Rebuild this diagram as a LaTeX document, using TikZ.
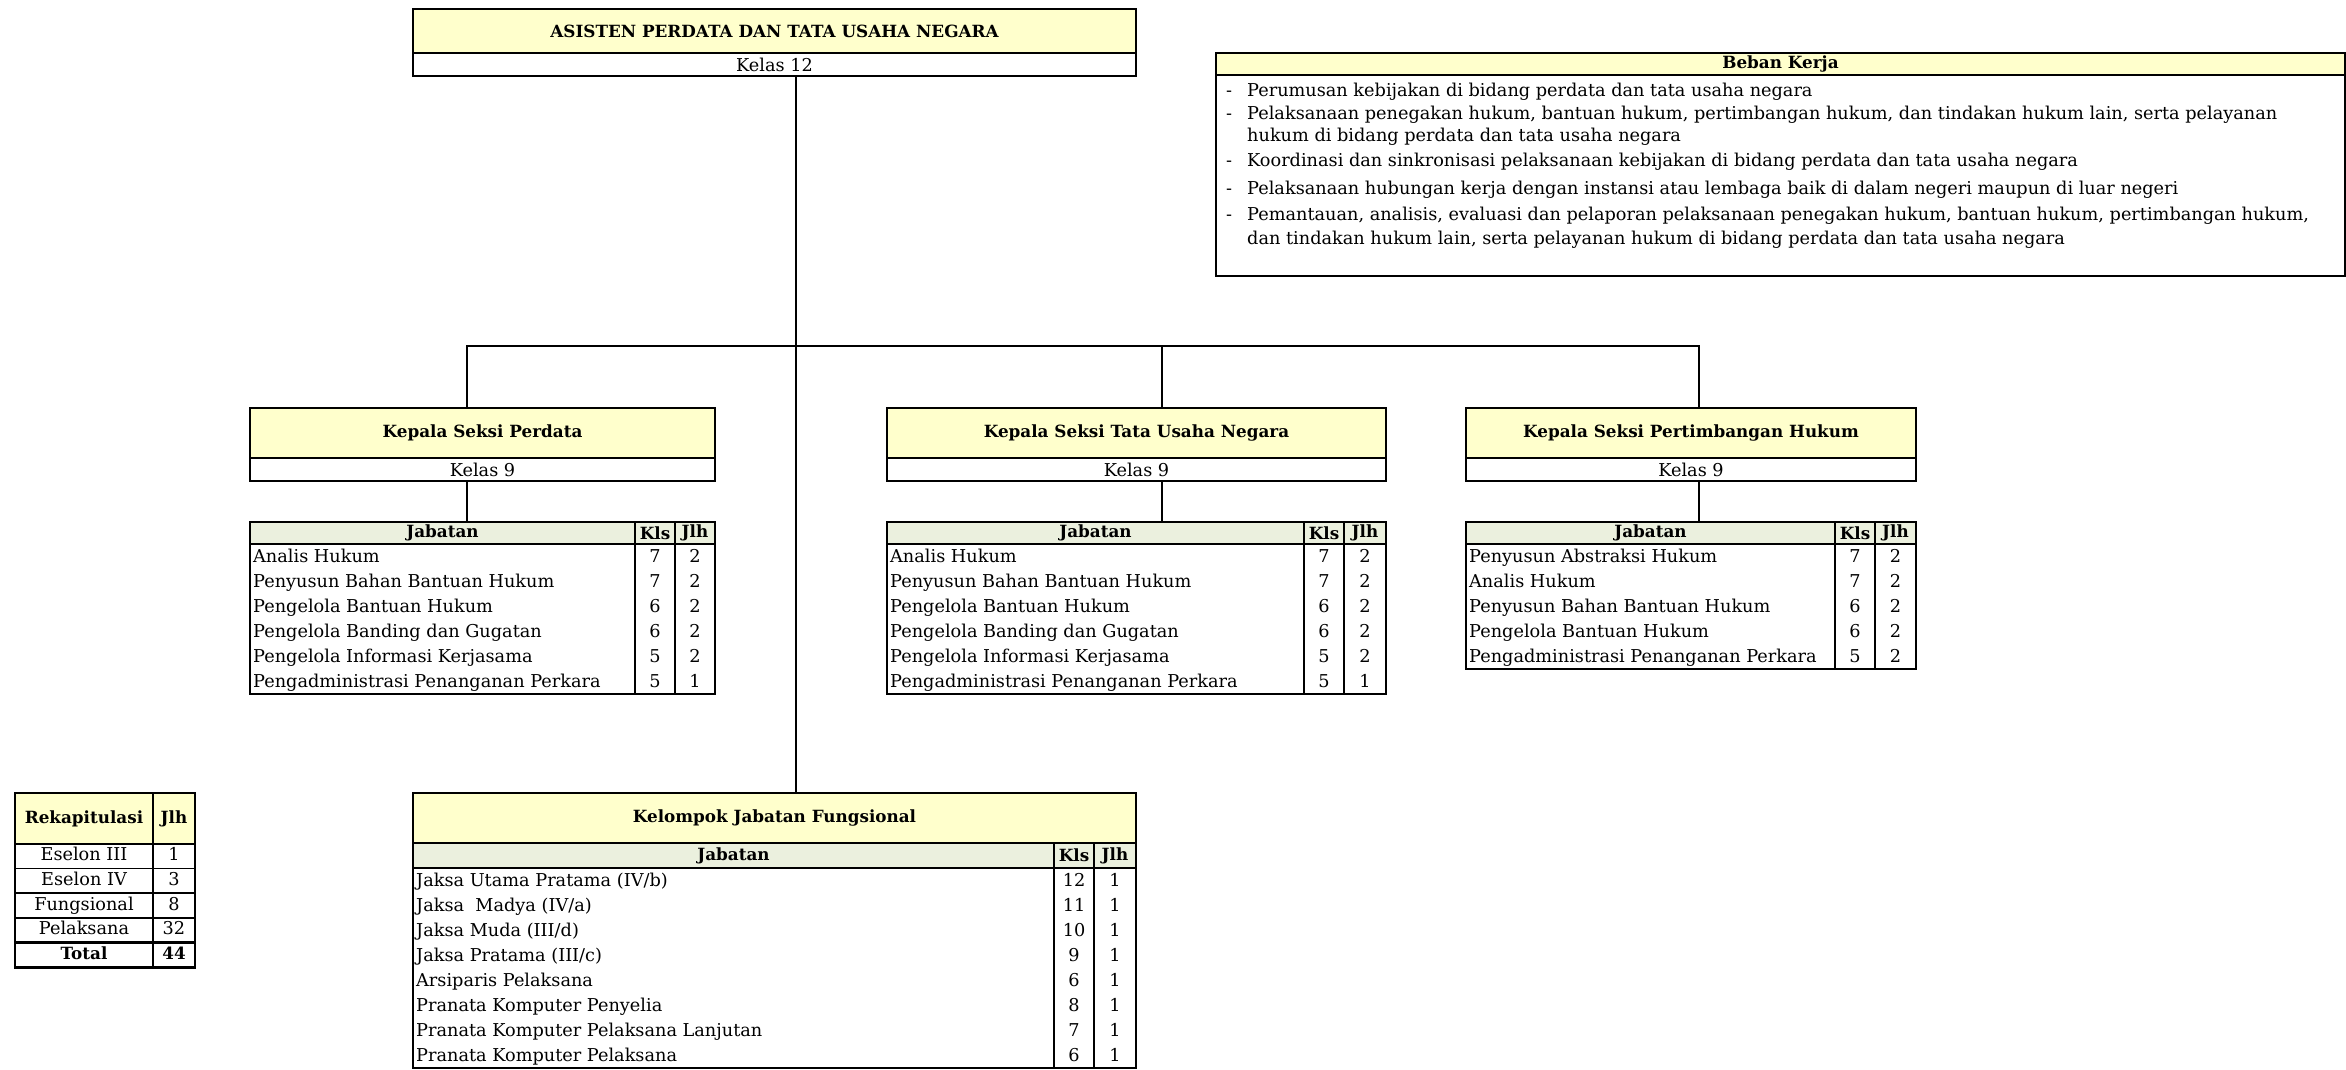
\documentclass[tikz,border=0pt]{standalone}
\usepackage{fontspec}
\setmainfont{DejaVu Serif}
\usepackage{tikz}
\usetikzlibrary{positioning,calc}
\definecolor{kuning}{RGB}{255,255,204}
\definecolor{hijau}{RGB}{235,240,222}
\newcommand\isifont{\fontsize{17.7}{20}\selectfont}
\newcommand\judulfont{\fontsize{16.8}{19}\selectfont\bfseries}
\tikzset{
  jdl/.style={draw, fill=kuning, line width=2pt, inner sep=0pt, outer sep=0pt,
              anchor=north west, font=\judulfont},
  kls/.style={draw, fill=white, line width=2pt, inner sep=0pt, outer sep=0pt,
              minimum height=23pt, font=\isifont},
  hd/.style={draw, fill=hijau, line width=2pt, inner sep=0pt, outer sep=0pt,
             minimum height=22pt, anchor=north west, font=\judulfont},
  bdy/.style={draw, fill=white, line width=2pt, inner sep=0pt, outer sep=0pt,
              anchor=north west},
  txt/.style={inner sep=0pt, anchor=west, font=\isifont,
              text height=13pt, text depth=4pt},
  num/.style={inner sep=0pt, font=\isifont, text height=13pt, text depth=4pt},
  rk/.style={draw, fill=white, line width=1.6pt, inner sep=0pt, outer sep=0pt,
             minimum height=24.6pt, anchor=north west, font=\isifont,
             text height=13pt, text depth=4pt},
  link/.style={line width=1.8pt},
}
\begin{document}
\begin{tikzpicture}[x=1pt, y=-1pt]
    \useasboundingbox (0,0) rectangle (2346,1069);
    % pimpinan
    \node[jdl, minimum width=723pt, minimum height=44pt] (asisten) at (413,9)
      {ASISTEN PERDATA DAN TATA USAHA NEGARA};
    \node[kls, minimum width=723pt, below=0pt of asisten] (kelas12) {Kelas 12};
    % beban kerja
    \node[jdl, minimum width=1129pt, minimum height=22pt] (beban) at (1216,53) {Beban Kerja};
    \node[bdy, minimum width=1129pt, minimum height=201pt, below=0pt of beban] (bebanIsi) {};
    \foreach \ty [count=\i] in {92,115,162,190,216}
      \node[txt] (dash\i) at (1226,\ty) {-};
    \node[txt] (bk1) at (1247,92) {Perumusan kebijakan di bidang perdata dan tata usaha negara};
    \node[txt] (bk2) at (1247,115) {Pelaksanaan penegakan hukum, bantuan hukum, pertimbangan hukum, dan tindakan hukum lain, serta pelayanan};
    \node[txt] (bk3) at (1247,137) {hukum di bidang perdata dan tata usaha negara};
    \node[txt] (bk4) at (1247,162) {Koordinasi dan sinkronisasi pelaksanaan kebijakan di bidang perdata dan tata usaha negara};
    \node[txt] (bk5) at (1247,190) {Pelaksanaan hubungan kerja dengan instansi atau lembaga baik di dalam negeri maupun di luar negeri};
    \node[txt] (bk6) at (1247,216) {Pemantauan, analisis, evaluasi dan pelaporan pelaksanaan penegakan hukum, bantuan hukum, pertimbangan hukum,};
    \node[txt] (bk7) at (1247,240) {dan tindakan hukum lain, serta pelayanan hukum di bidang perdata dan tata usaha negara};

    % seksi perdata
    \node[jdl, minimum width=465pt, minimum height=50pt] (perdata) at (250,408) {Kepala Seksi Perdata};
    \node[kls, minimum width=465pt, below=0pt of perdata] (kelasP) {Kelas 9};
    \node[hd, minimum width=385pt] (jabP) at (250,522) {Jabatan};
    \node[hd, minimum width=40pt, right=0pt of jabP] (klsP) {Kls};
    \node[hd, minimum width=40pt, right=0pt of klsP] (jlhP) {Jlh};
    \node[bdy, minimum width=385pt, minimum height=150pt, below=0pt of jabP] (colP1) {};
    \node[bdy, minimum width=40pt, minimum height=150pt, below=0pt of klsP] (colP2) {};
    \node[bdy, minimum width=40pt, minimum height=150pt, below=0pt of jlhP] (colP3) {};
    \foreach \nm/\kl/\jl [count=\i] in {Analis Hukum/7/2, Penyusun Bahan Bantuan Hukum/7/2,
        Pengelola Bantuan Hukum/6/2, Pengelola Banding dan Gugatan/6/2,
        Pengelola Informasi Kerjasama/5/2, Pengadministrasi Penanganan Perkara/5/1}
    {
      \node[txt] (p\i) at ($(colP1.north west)+(3,{14+25*(\i-1)})$) {\nm};
      \node[num] at (colP2.north |- p\i) {\kl};
      \node[num] at (colP3.north |- p\i) {\jl};
    }

    % seksi tata usaha negara
    \node[jdl, minimum width=499pt, minimum height=50pt] (tun) at (887,408) {Kepala Seksi Tata Usaha Negara};
    \node[kls, minimum width=499pt, below=0pt of tun] (kelasT) {Kelas 9};
    \node[hd, minimum width=417pt] (jabT) at (887,522) {Jabatan};
    \node[hd, minimum width=40pt, right=0pt of jabT] (klsT) {Kls};
    \node[hd, minimum width=42pt, right=0pt of klsT] (jlhT) {Jlh};
    \node[bdy, minimum width=417pt, minimum height=150pt, below=0pt of jabT] (colT1) {};
    \node[bdy, minimum width=40pt, minimum height=150pt, below=0pt of klsT] (colT2) {};
    \node[bdy, minimum width=42pt, minimum height=150pt, below=0pt of jlhT] (colT3) {};
    \foreach \nm/\kl/\jl [count=\i] in {Analis Hukum/7/2, Penyusun Bahan Bantuan Hukum/7/2,
        Pengelola Bantuan Hukum/6/2, Pengelola Banding dan Gugatan/6/2,
        Pengelola Informasi Kerjasama/5/2, Pengadministrasi Penanganan Perkara/5/1}
    {
      \node[txt] (t\i) at ($(colT1.north west)+(3,{14+25*(\i-1)})$) {\nm};
      \node[num] at (colT2.north |- t\i) {\kl};
      \node[num] at (colT3.north |- t\i) {\jl};
    }

    % seksi pertimbangan hukum
    \node[jdl, minimum width=450pt, minimum height=50pt] (pertim) at (1466,408) {Kepala Seksi Pertimbangan Hukum};
    \node[kls, minimum width=450pt, below=0pt of pertim] (kelasH) {Kelas 9};
    \node[hd, minimum width=369pt] (jabH) at (1466,522) {Jabatan};
    \node[hd, minimum width=40pt, right=0pt of jabH] (klsH) {Kls};
    \node[hd, minimum width=41pt, right=0pt of klsH] (jlhH) {Jlh};
    \node[bdy, minimum width=369pt, minimum height=125pt, below=0pt of jabH] (colH1) {};
    \node[bdy, minimum width=40pt, minimum height=125pt, below=0pt of klsH] (colH2) {};
    \node[bdy, minimum width=41pt, minimum height=125pt, below=0pt of jlhH] (colH3) {};
    \foreach \nm/\kl/\jl [count=\i] in {Penyusun Abstraksi Hukum/7/2, Analis Hukum/7/2,
        Penyusun Bahan Bantuan Hukum/6/2, Pengelola Bantuan Hukum/6/2,
        Pengadministrasi Penanganan Perkara/5/2}
    {
      \node[txt] (h\i) at ($(colH1.north west)+(3,{14+25*(\i-1)})$) {\nm};
      \node[num] at (colH2.north |- h\i) {\kl};
      \node[num] at (colH3.north |- h\i) {\jl};
    }

    % kelompok jabatan fungsional
    \node[jdl, minimum width=723pt, minimum height=50pt] (fung) at (413,793) {Kelompok Jabatan Fungsional};
    \node[hd, minimum width=641pt, minimum height=25pt] (jabF) at (413,843) {Jabatan};
    \node[hd, minimum width=40pt, minimum height=25pt, right=0pt of jabF] (klsF) {Kls};
    \node[hd, minimum width=42pt, minimum height=25pt, right=0pt of klsF] (jlhF) {Jlh};
    \node[bdy, minimum width=641pt, minimum height=200pt, below=0pt of jabF] (colF1) {};
    \node[bdy, minimum width=40pt, minimum height=200pt, below=0pt of klsF] (colF2) {};
    \node[bdy, minimum width=42pt, minimum height=200pt, below=0pt of jlhF] (colF3) {};
    \foreach \nm/\kl/\jl [count=\i] in {{Jaksa Utama Pratama (IV/b)}/12/1, {Jaksa~~Madya (IV/a)}/11/1,
        {Jaksa Muda (III/d)}/10/1, {Jaksa Pratama (III/c)}/9/1, Arsiparis Pelaksana/6/1,
        Pranata Komputer Penyelia/8/1, Pranata Komputer Pelaksana Lanjutan/7/1,
        Pranata Komputer Pelaksana/6/1}
    {
      \node[txt] (f\i) at ($(colF1.north west)+(3,{14+25*(\i-1)})$) {\nm};
      \node[num] at (colF2.north |- f\i) {\kl};
      \node[num] at (colF3.north |- f\i) {\jl};
    }

    % rekapitulasi
    \node[jdl, minimum width=138pt, minimum height=51pt] (rekap) at (15,793) {Rekapitulasi};
    \node[jdl, minimum width=42pt, minimum height=51pt, right=0pt of rekap] (rekapJlh) {Jlh};
    \foreach \nm/\jl [count=\i] in {Eselon III/1, Eselon IV/3, Fungsional/8, Pelaksana/32}
    {
      \node[rk, minimum width=138pt] (rk\i) at (15,{844+24.6*(\i-1)}) {\nm};
      \node[rk, minimum width=42pt, right=0pt of rk\i] (rj\i) {\jl};
    }
    \node[rk, line width=2.4pt, minimum width=138pt, minimum height=25pt, font=\judulfont] (total) at (15,942.4) {Total};
    \node[rk, line width=2.4pt, minimum width=42pt, minimum height=25pt, font=\judulfont, right=0pt of total] (totalJlh) {44};

    % garis hubungan
    \coordinate (tA) at (796,346);
    \coordinate (tP) at (467,346);
    \coordinate (tT) at (1162,346);
    \coordinate (tH) at (1699,346);
    \draw[link] (tA |- kelas12.south) -- (tA |- fung.north);
    \draw[link] (tP |- perdata.north) -- (tP) -- (tH) -- (tH |- pertim.north);
    \draw[link] (tT) -- (tT |- tun.north);
    \draw[link] (tP |- kelasP.south) -- (tP |- jabP.north);
    \draw[link] (tT |- kelasT.south) -- (tT |- jabT.north);
    \draw[link] (tH |- kelasH.south) -- (tH |- jabH.north);
  \end{tikzpicture}
\end{document}
